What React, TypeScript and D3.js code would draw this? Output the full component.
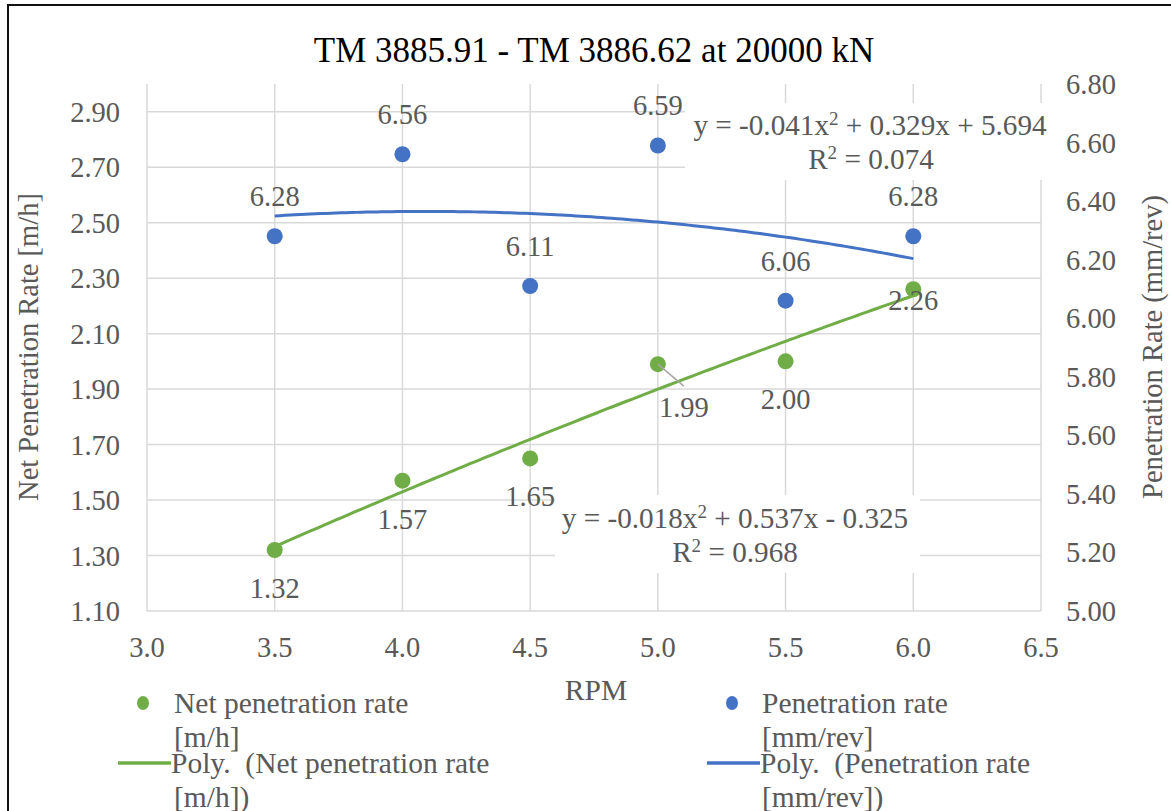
import React from "react";
import * as d3 from "d3";

const rpm = [3.5, 4.0, 4.5, 5.0, 5.5, 6.0];
const netRate = [1.32, 1.57, 1.65, 1.99, 2.0, 2.26];
const penRate = [6.28, 6.56, 6.11, 6.59, 6.06, 6.28];
const xTicks = [3.0, 3.5, 4.0, 4.5, 5.0, 5.5, 6.0, 6.5];
const leftTicks = [1.1, 1.3, 1.5, 1.7, 1.9, 2.1, 2.3, 2.5, 2.7, 2.9];
const rightTicks = [5.0, 5.2, 5.4, 5.6, 5.8, 6.0, 6.2, 6.4, 6.6, 6.8];

const GREEN = "#70AD47";
const BLUE = "#4472C4";
const GRID = "#D9D9D9";
const TXT = "#595959";
const FONT = '"Liberation Serif", "DejaVu Serif", serif';

// least-squares quadratic fit (Excel polynomial trendline, order 2)
function quadFit(xs: number[], ys: number[]) {
  const n = xs.length;
  const s = [0, 0, 0, 0, 0];
  const t = [0, 0, 0];
  for (let i = 0; i < n; i++) {
    for (let k = 0; k < 5; k++) s[k] += Math.pow(xs[i], k);
    for (let k = 0; k < 3; k++) t[k] += Math.pow(xs[i], k) * ys[i];
  }
  const M = [
    [s[0], s[1], s[2], t[0]],
    [s[1], s[2], s[3], t[1]],
    [s[2], s[3], s[4], t[2]],
  ];
  for (let i = 0; i < 3; i++) {
    for (let j = i + 1; j < 3; j++) {
      const f = M[j][i] / M[i][i];
      for (let k = i; k < 4; k++) M[j][k] -= f * M[i][k];
    }
  }
  const c = [0, 0, 0];
  for (let i = 2; i >= 0; i--) {
    let v = M[i][3];
    for (let k = i + 1; k < 3; k++) v -= M[i][k] * c[k];
    c[i] = v / M[i][i];
  }
  return (x: number) => c[0] + c[1] * x + c[2] * x * x;
}

export default function App() {
  const x = d3.scaleLinear().domain([3.0, 6.5]).range([147, 1041]);
  const yL = d3.scaleLinear().domain([1.1, 3.0]).range([611, 84]);
  const yR = d3.scaleLinear().domain([5.0, 6.8]).range([611, 84]);
  const fNet = quadFit(rpm, netRate);
  const fPen = quadFit(rpm, penRate);
  const xs = d3.range(3.5, 6.0001, 0.02);
  const netLine = d3.line<number>().x((d) => x(d)).y((d) => yL(fNet(d)));
  const penLine = d3.line<number>().x((d) => x(d)).y((d) => yR(fPen(d)));
  const fs = 28.5;
  const efs = 29.2;
  const lfs = 29.5;

  return (
    <svg width={1171} height={811} style={{ position: "absolute", left: 0, top: 0, background: "#fff", fontFamily: FONT }}>
      <rect x={0} y={0} width={1171} height={811} fill="#fff" />
      <path d="M8,811 V5 H1171" fill="none" stroke="#111" strokeWidth={2} />
      <text x={594} y={62} textAnchor="middle" fontSize={35} fill="#000">TM 3885.91 - TM 3886.62 at 20000 kN</text>
      {leftTicks.map((t) => (
        <line key={"h" + t} x1={147} x2={1041} y1={yL(t)} y2={yL(t)} stroke={GRID} strokeWidth={1.5} />
      ))}
      {xTicks.map((t) => (
        <line key={"v" + t} x1={x(t)} x2={x(t)} y1={84} y2={611} stroke={GRID} strokeWidth={1.5} />
      ))}
      {leftTicks.map((t) => (
        <text key={"lt" + t} x={120} y={yL(t) + 10} textAnchor="end" fontSize={fs} fill={TXT}>{t.toFixed(2)}</text>
      ))}
      {rightTicks.map((t) => (
        <text key={"rt" + t} x={1066} y={yR(t) + 10} textAnchor="start" fontSize={fs} fill={TXT}>{t.toFixed(2)}</text>
      ))}
      {xTicks.map((t) => (
        <text key={"xt" + t} x={x(t)} y={657} textAnchor="middle" fontSize={fs} fill={TXT}>{t.toFixed(1)}</text>
      ))}
      <text x={596} y={700} textAnchor="middle" fontSize={lfs} fill={TXT}>RPM</text>
      <text transform={`translate(38,347) rotate(-90)`} textAnchor="middle" fontSize={fs} fill={TXT}>Net Penetration Rate [m/h]</text>
      <text transform={`translate(1162,347) rotate(-90)`} textAnchor="middle" fontSize={fs} fill={TXT}>Penetration Rate (mm/rev)</text>
      <path d={penLine(xs) || ""} fill="none" stroke={BLUE} strokeWidth={3} />
      <path d={netLine(xs) || ""} fill="none" stroke={GREEN} strokeWidth={3} />
      {rpm.map((r, i) => (
        <circle key={"p" + i} cx={x(r)} cy={yR(penRate[i])} r={8} fill={BLUE} />
      ))}
      {rpm.map((r, i) => (
        <circle key={"n" + i} cx={x(r)} cy={yL(netRate[i])} r={8} fill={GREEN} />
      ))}
      <line x1={x(5.0)} y1={yL(1.99)} x2={x(5.0) + 26} y2={yL(1.99) + 22} stroke="#A6A6A6" strokeWidth={1.5} />
      {rpm.map((r, i) => (
        <text key={"pl" + i} x={x(r)} y={yR(penRate[i]) - 30} textAnchor="middle" fontSize={fs} fill={TXT}>{penRate[i].toFixed(2)}</text>
      ))}
      {rpm.map((r, i) => {
        let dx = 0;
        let dy = 48;
        if (i === 3) { dx = 26; dy = 53; }
        if (i === 5) { dy = 21; }
        return (
          <text key={"nl" + i} x={x(r) + dx} y={yL(netRate[i]) + dy} textAnchor="middle" fontSize={fs} fill={TXT}>{netRate[i].toFixed(2)}</text>
        );
      })}
      <rect x={685} y={103} width={367} height={77} fill="#fff" />
      <text x={870} y={135} textAnchor="middle" fontSize={efs} fill={TXT}>
        y = -0.041x<tspan dy={-10} fontSize={19}>2</tspan><tspan dy={10}> + 0.329x + 5.694</tspan>
      </text>
      <text x={871} y={169} textAnchor="middle" fontSize={efs} fill={TXT}>
        R<tspan dy={-10} fontSize={19}>2</tspan><tspan dy={10}> = 0.074</tspan>
      </text>
      <rect x={555} y={495} width={365} height={78} fill="#fff" />
      <text x={735} y={528} textAnchor="middle" fontSize={efs} fill={TXT}>
        y = -0.018x<tspan dy={-10} fontSize={19}>2</tspan><tspan dy={10}> + 0.537x - 0.325</tspan>
      </text>
      <text x={735} y={562} textAnchor="middle" fontSize={efs} fill={TXT}>
        R<tspan dy={-10} fontSize={19}>2</tspan><tspan dy={10}> = 0.968</tspan>
      </text>
      <ellipse cx={143} cy={703} rx={6} ry={7} fill={GREEN} />
      <text x={174} y={713} fontSize={lfs} fill={TXT}>Net penetration rate</text>
      <text x={174} y={747} fontSize={lfs} fill={TXT}>[m/h]</text>
      <line x1={118} x2={171} y1={763} y2={763} stroke={GREEN} strokeWidth={3.5} />
      <text x={171} y={773} fontSize={lfs} fill={TXT}>{"Poly.\u00A0 (Net penetration rate"}</text>
      <text x={174} y={807} fontSize={lfs} fill={TXT}>[m/h])</text>
      <ellipse cx={732} cy={703} rx={6} ry={7} fill={BLUE} />
      <text x={762} y={713} fontSize={lfs} fill={TXT}>Penetration rate</text>
      <text x={762} y={747} fontSize={lfs} fill={TXT}>[mm/rev]</text>
      <line x1={707} x2={760} y1={763} y2={763} stroke={BLUE} strokeWidth={3.5} />
      <text x={760} y={773} fontSize={lfs} fill={TXT}>{"Poly.\u00A0 (Penetration rate"}</text>
      <text x={762} y={807} fontSize={lfs} fill={TXT}>[mm/rev])</text>
    </svg>
  );
}
